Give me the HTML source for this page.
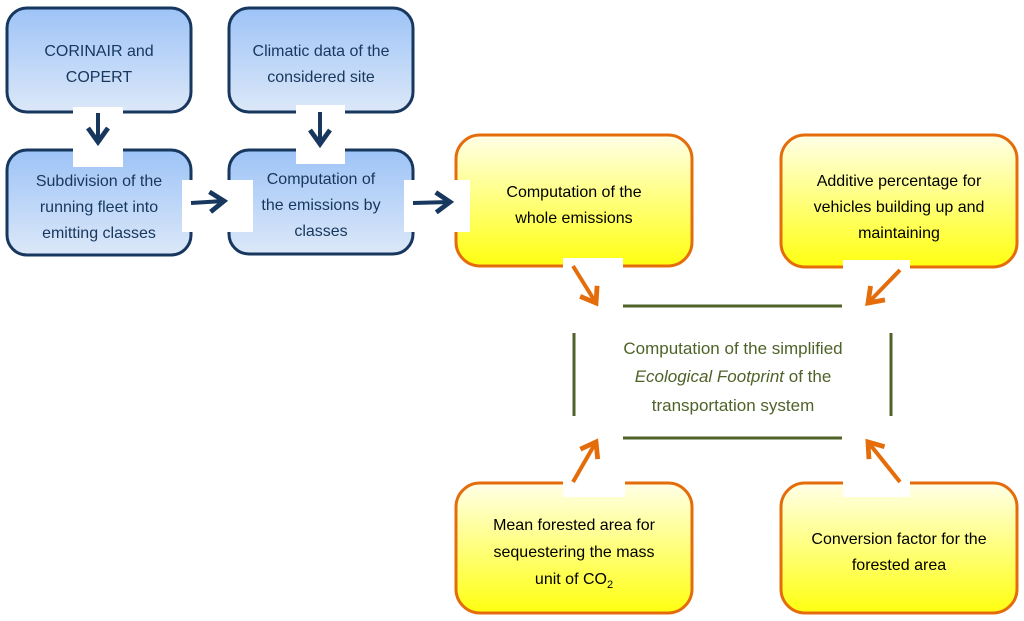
<!DOCTYPE html>
<html><head><meta charset="utf-8"><style>
html,body{margin:0;padding:0;background:#fff;}
svg{display:block;font-family:"Liberation Sans",sans-serif;}
</style></head><body>
<svg width="1024" height="621" viewBox="0 0 1024 621" xmlns="http://www.w3.org/2000/svg">
<defs>
<linearGradient id="bl" x1="0" y1="0" x2="0" y2="1"><stop offset="0" stop-color="#9DC3F7"/><stop offset="1" stop-color="#DCE8F8"/></linearGradient>
<linearGradient id="ye" x1="0" y1="0" x2="0" y2="1"><stop offset="0" stop-color="#FFFFE8"/><stop offset="1" stop-color="#FFFF10"/></linearGradient>
<marker id="ab" markerWidth="6" markerHeight="6" refX="4" refY="3" orient="auto" markerUnits="strokeWidth"><path d="M0.5,0.5 L4,3 L0.5,5.5" fill="none" stroke="#17375E" stroke-width="1.2"/></marker>
<marker id="ao" markerWidth="6" markerHeight="6" refX="4" refY="3" orient="auto" markerUnits="strokeWidth"><path d="M0.5,0.5 L4,3 L0.5,5.5" fill="none" stroke="#E46C0A" stroke-width="1.2"/></marker>
</defs>
<g stroke="#17375E" stroke-width="3" fill="url(#bl)">
<rect x="7" y="8" width="184" height="104" rx="20"/>
<rect x="229" y="8" width="184" height="104" rx="20"/>
<rect x="7" y="150" width="184" height="105" rx="20"/>
<rect x="229" y="150" width="184" height="104" rx="20"/>
</g>
<g stroke="#E46C0A" stroke-width="3" fill="url(#ye)">
<rect x="456" y="135" width="236" height="131" rx="24"/>
<rect x="781" y="135" width="236" height="132" rx="24"/>
<rect x="456" y="483" width="236" height="130" rx="24"/>
<rect x="781" y="483" width="236" height="130" rx="24"/>
</g>
<g fill="#fff">
<rect x="73" y="107" width="50" height="60"/>
<rect x="296" y="105" width="49" height="59"/>
<rect x="182" y="180" width="71" height="52"/>
<rect x="404" y="180" width="66" height="52"/>
<rect x="563" y="258" width="60" height="60"/>
<rect x="843" y="260" width="67" height="58"/>
<rect x="563" y="435" width="62" height="62"/>
<rect x="843" y="435" width="67" height="62"/>
</g>
<g stroke="#17375E" stroke-width="4" fill="none">
<line x1="98" y1="113" x2="98" y2="142" marker-end="url(#ab)"/>
<line x1="320" y1="112" x2="320" y2="144" marker-end="url(#ab)"/>
<line x1="191" y1="203" x2="224" y2="201" marker-end="url(#ab)"/>
<line x1="413" y1="203" x2="450" y2="202" marker-end="url(#ab)"/>
</g>
<g stroke="#E46C0A" stroke-width="4" fill="none">
<line x1="573" y1="266" x2="596" y2="303" marker-end="url(#ao)"/>
<line x1="900" y1="270" x2="868" y2="303" marker-end="url(#ao)"/>
<line x1="573" y1="482" x2="596" y2="442" marker-end="url(#ao)"/>
<line x1="900" y1="482" x2="868" y2="442" marker-end="url(#ao)"/>
</g>
<g stroke="#4F6228" stroke-width="3">
<line x1="623" y1="306" x2="842" y2="306"/>
<line x1="623" y1="438" x2="842" y2="438"/>
<line x1="574" y1="333" x2="574" y2="416"/>
<line x1="891" y1="333" x2="891" y2="416"/>
</g>
<g fill="#17375E" font-size="16" text-anchor="middle">
<text x="99" y="56">CORINAIR and</text><text x="99" y="82">COPERT</text>
<text x="321" y="56">Climatic data of the</text><text x="321" y="82">considered site</text>
<text x="99" y="186">Subdivision of the</text><text x="99" y="212">running fleet into</text><text x="99" y="238">emitting classes</text>
<text x="321" y="184">Computation of</text><text x="321" y="210">the emissions by</text><text x="321" y="236">classes</text>
</g>
<g fill="#000" font-size="16" text-anchor="middle">
<text x="574" y="197">Computation of the</text><text x="574" y="223">whole emissions</text>
<text x="899" y="186">Additive percentage for</text><text x="899" y="212">vehicles building up and</text><text x="899" y="238">maintaining</text>
<text x="574" y="530">Mean forested area for</text><text x="574" y="557">sequestering the mass</text><text x="574" y="584">unit of CO<tspan font-size="11" dy="4">2</tspan></text>
<text x="899" y="544">Conversion factor for the</text><text x="899" y="570">forested area</text>
</g>
<g fill="#4F6228" font-size="17" text-anchor="middle">
<text x="733" y="354">Computation of the simplified</text>
<text x="733" y="382"><tspan font-style="italic">Ecological Footprint</tspan> of the</text>
<text x="733" y="411">transportation system</text>
</g>
</svg>
</body></html>
